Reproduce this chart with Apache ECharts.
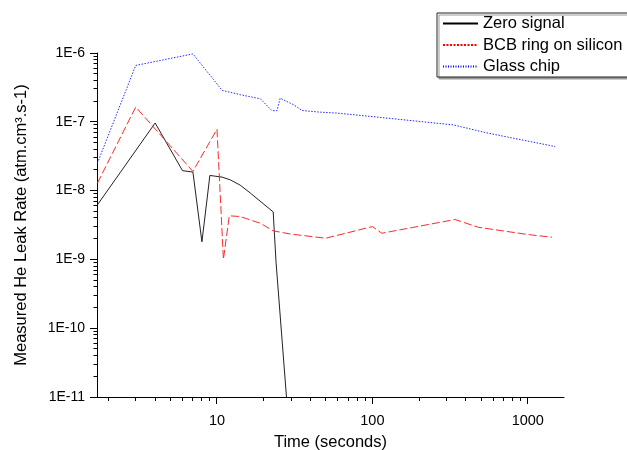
<!DOCTYPE html>
<html><head><meta charset="utf-8">
<script src="https://cdn.jsdelivr.net/npm/echarts@6/dist/echarts.min.js"></script>
<style>html,body{margin:0;padding:0;background:#fff}#c{width:627px;height:450px}</style>
</head><body><div id="c"></div>
<script>
// Zero signal
const zeroTime = [1.7, 4.0, 6.0, 7.0, 8.0, 9.0, 10.8, 12.2, 14.1, 16.4, 23.0, 24.0, 28.0];
const zeroRate = [6.2e-9, 9.6e-8, 1.95e-8, 1.86e-8, 1.8e-9, 1.66e-8, 1.57e-8, 1.43e-8, 1.2e-8, 9.2e-9, 4.9e-9, 9e-10, 1e-11];
// BCB ring on silicon
const bcbTime = [1.7, 3.0, 7.0, 10.0, 11.0, 12.0, 14.1, 19.0, 23.0, 29.6, 50, 100, 115, 340, 480, 1000, 1430];
const bcbRate = [1.28e-8, 1.64e-7, 1.9e-8, 7.8e-8, 1e-9, 4.3e-9, 4.2e-9, 3.35e-9, 2.6e-9, 2.34e-9, 2.03e-9, 3.0e-9, 2.4e-9, 3.8e-9, 2.93e-9, 2.3e-9, 2.1e-9];
// Glass chip
const glassTime = [1.7, 3.0, 7.0, 10.8, 14.2, 19.0, 22.6, 24.3, 25.5, 31.1, 35.3, 46.2, 59, 100, 333, 545, 1500];
const glassRate = [2.5e-8, 6.6e-7, 9.7e-7, 2.86e-7, 2.47e-7, 2.16e-7, 1.45e-7, 1.45e-7, 2.2e-7, 1.77e-7, 1.46e-7, 1.38e-7, 1.34e-7, 1.19e-7, 9.0e-8, 6.9e-8, 4.37e-8];

const seriesNames = ['Zero signal', 'BCB ring on silicon', 'Glass chip'];
const xMajorTicks = [10, 100, 1000];
const xMinorTicks = [2, 3, 4, 5, 6, 7, 8, 9, 20, 30, 40, 50, 60, 70, 80, 90, 200, 300, 400, 500, 600, 700, 800, 900];
const yMajorTicks = [1e-11, 1e-10, 1e-9, 1e-8, 1e-7, 1e-6];
const yMinorTicks = [
  2e-11, 3e-11, 4e-11, 5e-11, 6e-11, 7e-11, 8e-11, 9e-11,
  2e-10, 3e-10, 4e-10, 5e-10, 6e-10, 7e-10, 8e-10, 9e-10,
  2e-9, 3e-9, 4e-9, 5e-9, 6e-9, 7e-9, 8e-9, 9e-9,
  2e-8, 3e-8, 4e-8, 5e-8, 6e-8, 7e-8, 8e-8, 9e-8,
  2e-7, 3e-7, 4e-7, 5e-7, 6e-7, 7e-7, 8e-7, 9e-7
];

const FONT = '"Liberation Sans", Arial, sans-serif';
const X_MIN = 1.69, X_MAX = 1710, Y_MIN = 1e-11, Y_MAX = 1e-6;

function pairs(t, v) { return t.map((x, i) => [x, v[i]]); }

const chart = echarts.init(document.getElementById('c'), null, {renderer: 'canvas'});
chart.setOption({
  animation: false,
  backgroundColor: '#fff',
  grid: {left: 97, right: 63, top: 53, bottom: 53, containLabel: false, outerBoundsMode: 'none'},
  legend: {
    orient: 'vertical', left: 437, top: 13,
    padding: [2, 60, 2, 5],
    itemWidth: 35, itemHeight: 12, itemGap: 4.5,
    borderColor: '#222', borderWidth: 1, backgroundColor: '#fff',
    shadowColor: '#999', shadowOffsetX: 2, shadowOffsetY: 2, shadowBlur: 0,
    itemStyle: {opacity: 0},
    textStyle: {fontFamily: FONT, fontSize: 16.5, color: '#000', lineHeight: 16},
    data: [
      {name: seriesNames[0], lineStyle: {type: 'solid', color: '#000'}},
      {name: seriesNames[1], lineStyle: {type: [2, 1.5], color: '#ff0000'}},
      {name: seriesNames[2], lineStyle: {type: [1, 1.5], color: '#0000ff'}}
    ]
  },
  xAxis: {
    type: 'log', min: X_MIN, max: X_MAX, position: 'bottom',
    splitLine: {show: false},
    name: 'Time (seconds)', nameLocation: 'middle', nameGap: 37,
    nameTextStyle: {fontFamily: FONT, fontSize: 16.5, color: '#000'},
    axisLine: {show: true, lineStyle: {color: '#000', width: 1}},
    axisTick: {show: false},
    minorTick: {show: false},
    axisLabel: {show: true, customValues: xMajorTicks, margin: 16, fontFamily: FONT, fontSize: 14.5, color: '#000',
      formatter: v => String(Math.round(v))}
  },
  yAxis: {
    type: 'log', min: Y_MIN, max: Y_MAX, position: 'left',
    splitLine: {show: false},
    name: 'Measured He Leak Rate (atm.cm³.s-1)', nameLocation: 'middle', nameGap: 67,
    nameTextStyle: {fontFamily: FONT, fontSize: 16.5, color: '#000'},
    axisLine: {show: true, lineStyle: {color: '#000', width: 1}},
    axisTick: {show: false},
    minorTick: {show: false},
    axisLabel: {show: true, customValues: yMajorTicks, margin: 12, fontFamily: FONT, fontSize: 14, color: '#000',
      formatter: v => '1E' + Math.round(Math.log10(v))}
  },
  series: [
    {name: seriesNames[0], type: 'line', symbol: 'none',
     data: pairs(zeroTime, zeroRate), color: '#000',
     lineStyle: {color: '#222', width: 1, type: 'solid'}},
    {name: seriesNames[1], type: 'line', symbol: 'none',
     data: pairs(bcbTime, bcbRate), color: '#ff0000',
     lineStyle: {color: '#ff2a2a', width: 1, type: [8, 3]}},
    {name: seriesNames[2], type: 'line', symbol: 'none',
     data: pairs(glassTime, glassRate), color: '#0000ff',
     lineStyle: {color: '#2a2aff', width: 1, type: [1.5, 1.5]}}
  ]
});

// Tick marks: positions come from the chart's own log axes via convertToPixel
const crisp = p => Math.round(p - 0.5) + 0.5;
const axisBottom = chart.convertToPixel({yAxisIndex: 0}, Y_MIN);
const axisLeft = chart.convertToPixel({xAxisIndex: 0}, X_MIN);
const tickEls = [];
function addXTicks(vals, len) {
  vals.forEach(v => {
    const x = crisp(chart.convertToPixel({xAxisIndex: 0}, v));
    tickEls.push({type: 'line', silent: true, z: 10,
      shape: {x1: x, y1: axisBottom, x2: x, y2: axisBottom + len},
      style: {stroke: '#000', lineWidth: 1}});
  });
}
function addYTicks(vals, len) {
  vals.forEach(v => {
    const y = crisp(chart.convertToPixel({yAxisIndex: 0}, v));
    tickEls.push({type: 'line', silent: true, z: 10,
      shape: {x1: axisLeft - len, y1: y, x2: axisLeft, y2: y},
      style: {stroke: '#000', lineWidth: 1}});
  });
}
if (isFinite(axisBottom) && isFinite(axisLeft)) {
  addXTicks(xMajorTicks, 7);
  addXTicks(xMinorTicks, 4);
  addYTicks(yMajorTicks, 7);
  addYTicks(yMinorTicks, 3.5);
  chart.setOption({graphic: {elements: tickEls}});
}
</script>
</body></html>
